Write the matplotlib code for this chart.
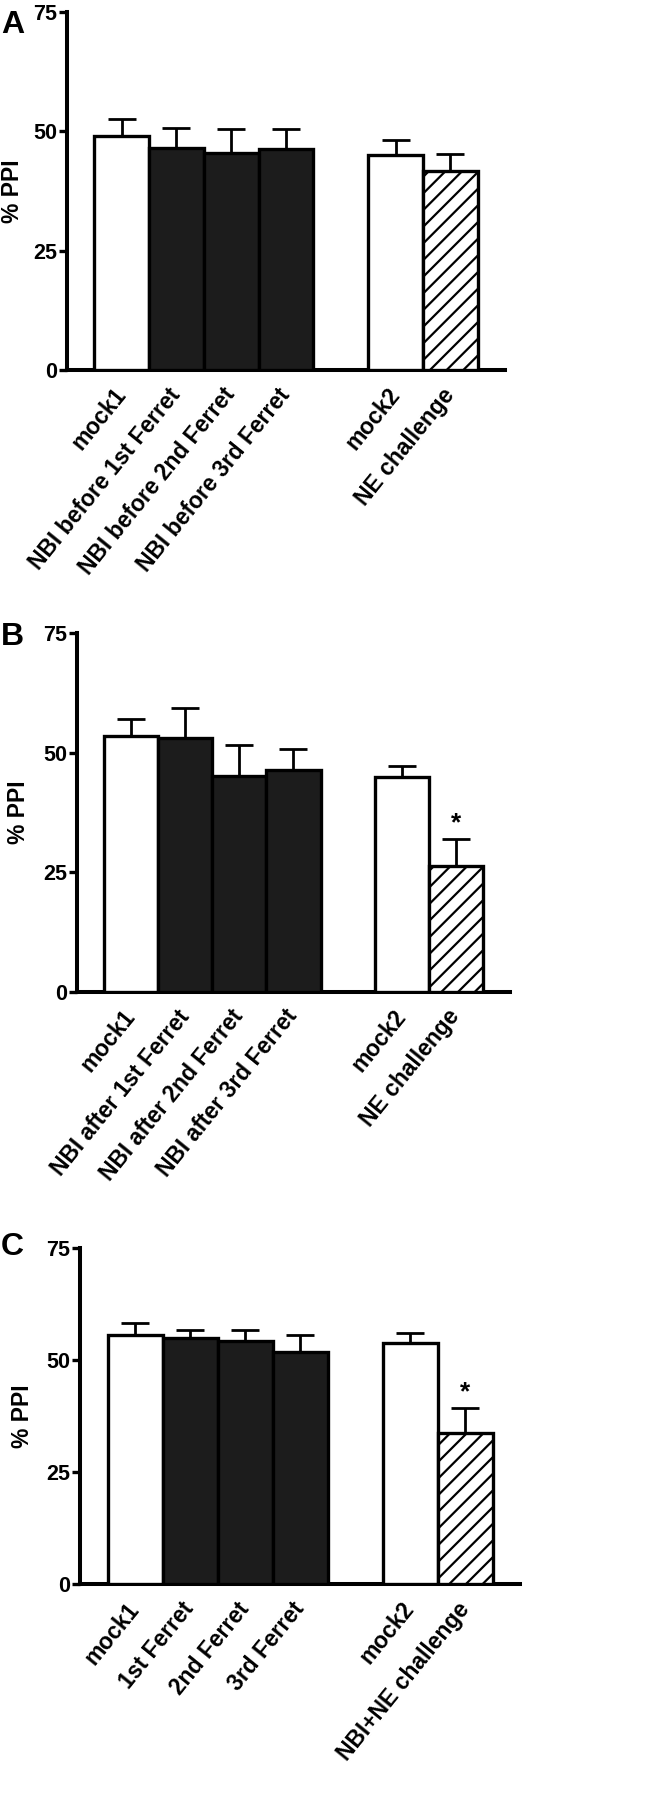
import matplotlib
matplotlib.use("Agg")
import matplotlib.pyplot as plt
import numpy as np

# ---- data ----
positions = [0, 1, 2, 3, 5, 6]

labels_a = ["mock1", "NBI before 1st Ferret", "NBI before 2nd Ferret",
            "NBI before 3rd Ferret", "mock2", "NE challenge"]
values_a = [49.0, 46.5, 45.5, 46.3, 45.1, 41.8]
errors_a = [3.5, 4.2, 5.1, 4.1, 3.1, 3.4]

labels_b = ["mock1", "NBI after 1st Ferret", "NBI after 2nd Ferret",
            "NBI after 3rd Ferret", "mock2", "NE challenge"]
values_b = [53.5, 53.2, 45.2, 46.3, 44.9, 26.3]
errors_b = [3.5, 6.2, 6.4, 4.5, 2.4, 5.7]

labels_c = ["mock1", "1st Ferret", "2nd Ferret", "3rd Ferret",
            "mock2", "NBI+NE challenge"]
values_c = [55.6, 54.9, 54.2, 51.8, 53.7, 33.7]
errors_c = [2.6, 1.7, 2.4, 3.7, 2.3, 5.7]

fills = ["white", "#1c1c1c", "#1c1c1c", "#1c1c1c", "white", "white"]
hatches = [None, None, None, None, None, "//"]
yticks = [0, 25, 50, 75]

panels = [
    ("A", labels_a, values_a, errors_a, [], [0.102, 0.7944, 0.668, 0.1989], (1, 10), -0.098),
    ("B", labels_b, values_b, errors_b, [5], [0.1174, 0.4491, 0.660, 0.1990], (1, 622), -0.108),
    ("C", labels_c, values_c, errors_c, [5], [0.122, 0.1198, 0.671, 0.1869], (1, 1232), -0.105),
]

plt.rcParams['hatch.linewidth'] = 1.6
plt.rcParams['font.family'] = ['Liberation Sans', 'DejaVu Sans']

W, H = 656, 1800
fig = plt.figure(figsize=(W / 100, H / 100), dpi=100)

for letter, labels, values, errors, stars, rect, lpos, ylx in panels:
    ax = fig.add_axes(rect)
    for p, v, e, fc, h in zip(positions, values, errors, fills, hatches):
        ax.bar(p, v, width=1.0, color=fc, edgecolor="black", linewidth=2.4,
               hatch=h, zorder=3)
        ax.errorbar(p, v, yerr=[[0], [e]], fmt="none", ecolor="black",
                    elinewidth=2.0, capsize=10, capthick=2.0, zorder=2)
    for i in stars:
        ax.text(positions[i], values[i] + errors[i] + 0.8, "*",
                ha="center", va="bottom", fontsize=19, fontweight="bold")
    ax.set_xlim(-1.0, 7.0)
    ax.set_ylim(0, 75)
    ax.set_yticks(yticks)
    ax.set_yticklabels([str(t) for t in yticks], fontweight="bold", fontsize=15.5)
    ax.set_xticks(positions)
    ax.set_xticklabels(labels, rotation=51, ha="right", va="center",
                       rotation_mode="anchor", fontsize=16.5, fontweight="bold")
    ax.tick_params(axis="x", length=0, pad=15)
    ax.tick_params(axis="y", length=6, width=2.4, pad=1)
    for s in ["top", "right"]:
        ax.spines[s].set_visible(False)
    for s in ["left", "bottom"]:
        ax.spines[s].set_linewidth(2.9)
    ax.set_ylabel("% PPI", fontsize=16.5, fontweight="bold")
    ax.yaxis.set_label_coords(ylx, 0.5)
    fig.text(lpos[0] / W, 1 - lpos[1] / H, letter, ha="left", va="top",
             fontsize=23, fontweight="bold")

fig.savefig("out.png", dpi=100)
